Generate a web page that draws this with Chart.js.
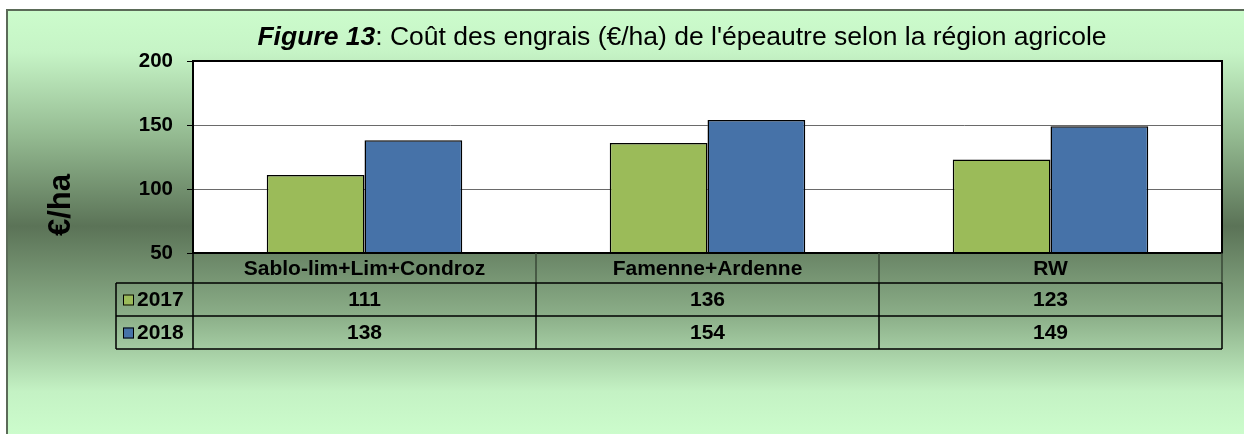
<!DOCTYPE html>
<html>
<head>
<meta charset="utf-8">
<script src="https://cdn.jsdelivr.net/npm/chart.js@4"></script>
<style>
html,body{margin:0;padding:0;background:#fff;}
#wrap{width:1244px;height:434px;position:relative;}
</style>
</head>
<body>
<div id="wrap"><canvas id="c" width="1244" height="434"></canvas></div>
<script>
const categories = ['Sablo-lim+Lim+Condroz', 'Famenne+Ardenne', 'RW'];
const seriesNames = ['2017', '2018'];
const values2017 = [111, 136, 123];
const values2018 = [138, 154, 149];
const yTicks = [50, 100, 150, 200];
const titleBold = 'Figure 13';
const titleRest = ": Coût des engrais (€/ha) de l'épeautre selon la région agricole";
const yTitle = '€/ha';

const colors = ['#9bbb59', '#4672a8'];
const FONT = '"Liberation Sans", Arial, sans-serif';

const decor = {
  id: 'decor',
  beforeDraw(chart) {
    const ctx = chart.ctx, a = chart.chartArea;
    ctx.save();
    ctx.fillStyle = '#ffffff';
    ctx.fillRect(0, 0, chart.width, chart.height);
    const g = ctx.createLinearGradient(0, 10, 0, 434);
    g.addColorStop(0.00, '#ccfccc');
    g.addColorStop(0.10, '#c6f4c6');
    g.addColorStop(0.30, '#93b990');
    g.addColorStop(0.51, '#5b7357');
    g.addColorStop(0.72, '#8bae88');
    g.addColorStop(0.90, '#c4f2c4');
    g.addColorStop(1.00, '#ccfccc');
    ctx.fillStyle = g;
    ctx.fillRect(7, 10, chart.width - 7, chart.height - 10);
    ctx.strokeStyle = '#5b6b58';
    ctx.lineWidth = 2;
    ctx.beginPath();
    ctx.moveTo(7, 434); ctx.lineTo(7, 10); ctx.lineTo(1244, 10);
    ctx.stroke();
    ctx.fillStyle = '#ffffff';
    ctx.fillRect(a.left, a.top, a.right - a.left, a.bottom - a.top);
    ctx.restore();
  },
  afterDatasetsDraw(chart) {
    const ctx = chart.ctx, a = chart.chartArea, x = chart.scales.x;
    ctx.save();
    // plot border
    ctx.strokeStyle = '#000';
    ctx.lineWidth = 2;
    ctx.strokeRect(a.left, a.top, a.right - a.left, a.bottom - a.top);

    // table
    const n = categories.length;
    const step = (a.right - a.left) / n;
    const hTop = a.bottom, hBot = a.bottom + 30, r1 = hBot + 33, r2 = r1 + 33;
    const legL = 116;
    ctx.strokeStyle = '#3a4837';
    ctx.lineWidth = 1.5;
    ctx.beginPath();
    for (let i = 1; i <= n; i++) {
      const bx = a.left + step * i;
      ctx.moveTo(bx, hTop); ctx.lineTo(bx, hBot);
    }
    ctx.stroke();
    ctx.strokeStyle = '#000';
    ctx.lineWidth = 1.5;
    ctx.beginPath();
    ctx.moveTo(a.left, hTop); ctx.lineTo(a.left, r2);
    ctx.moveTo(legL, hBot); ctx.lineTo(a.right, hBot);
    ctx.moveTo(legL, r1); ctx.lineTo(a.right, r1);
    ctx.moveTo(legL, r2); ctx.lineTo(a.right, r2);
    ctx.moveTo(legL, hBot); ctx.lineTo(legL, r2);
    for (let i = 1; i <= n; i++) {
      const bx = a.left + step * i;
      ctx.moveTo(bx, hBot); ctx.lineTo(bx, r2);
    }
    ctx.stroke();

    ctx.fillStyle = '#000';
    ctx.font = 'bold 21px ' + FONT;
    ctx.textAlign = 'center';
    ctx.textBaseline = 'middle';
    categories.forEach((c, i) => {
      const cx = x.getPixelForValue(i);
      ctx.fillText(c, cx, (hTop + hBot) / 2 + 1);
      ctx.fillText(String(values2017[i]), cx, (hBot + r1) / 2 + 1);
      ctx.fillText(String(values2018[i]), cx, (r1 + r2) / 2 + 1);
    });
    const rows = [[hBot, r1], [r1, r2]];
    seriesNames.forEach((s, i) => {
      const cy = (rows[i][0] + rows[i][1]) / 2;
      ctx.fillStyle = colors[i];
      ctx.fillRect(123, cy - 5, 11, 11);
      ctx.strokeStyle = '#000';
      ctx.lineWidth = 1;
      ctx.strokeRect(123.5, cy - 4.5, 10, 10);
      ctx.fillStyle = '#000';
      ctx.textAlign = 'left';
      ctx.fillText(s, 137, cy + 1);
    });

    // title
    ctx.textAlign = 'left';
    ctx.textBaseline = 'alphabetic';
    ctx.font = 'italic bold 26.5px ' + FONT;
    const w1 = ctx.measureText(titleBold).width;
    ctx.font = '26.5px ' + FONT;
    const w2 = ctx.measureText(titleRest).width;
    const sx = 682 - (w1 + w2) / 2;
    ctx.font = 'italic bold 26.5px ' + FONT;
    ctx.fillText(titleBold, sx, 45);
    ctx.font = '26.5px ' + FONT;
    ctx.fillText(titleRest, sx + w1, 45);

    // y title
    ctx.translate(60, 205);
    ctx.rotate(-Math.PI / 2);
    ctx.font = 'bold 31px ' + FONT;
    ctx.textAlign = 'center';
    ctx.textBaseline = 'middle';
    ctx.fillText(yTitle, 0, 1);
    ctx.restore();
  }
};

new Chart(document.getElementById('c'), {
  type: 'bar',
  data: {
    labels: categories,
    datasets: [
      { label: seriesNames[0], data: values2017, backgroundColor: colors[0], borderColor: '#000', borderWidth: 1.5 },
      { label: seriesNames[1], data: values2018, backgroundColor: colors[1], borderColor: '#000', borderWidth: 1.5 }
    ]
  },
  options: {
    responsive: false,
    animation: false,
    events: [],
    layout: { padding: { left: 0, right: 22, top: 61, bottom: 181 } },
    plugins: { legend: { display: false }, title: { display: false }, tooltip: { enabled: false } },
    datasets: { bar: { categoryPercentage: 0.57, barPercentage: 1 } },
    scales: {
      x: { display: false },
      y: {
        min: yTicks[0], max: yTicks[yTicks.length - 1],
        afterFit(s) { s.width = 193; },
        afterBuildTicks(s) { s.ticks = yTicks.map(v => ({ value: v })); },
        border: { display: false },
        grid: { color: '#6a6a6a', lineWidth: 1, tickColor: '#000', tickLength: 6, drawTicks: true },
        ticks: { padding: 14, color: '#000', font: { family: FONT, size: 20.5, weight: 'bold' } }
      }
    }
  },
  plugins: [decor]
});
</script>
</body>
</html>
